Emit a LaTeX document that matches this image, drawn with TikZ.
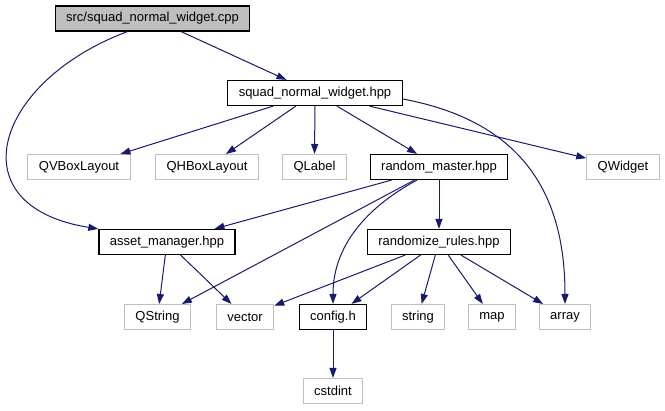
\documentclass[tikz,border=0pt]{standalone}
\usepackage{fontspec}
\setmainfont{Liberation Sans}
\definecolor{DoxEdge}{HTML}{191970}
\definecolor{DoxGrey}{HTML}{BFBFBF}
\usetikzlibrary{arrows.meta}

\begin{document}
\begin{tikzpicture}[x=1pt, y=1pt, >={Triangle[length=10pt, width=7pt]},
    hfile/.style={draw=black, line width=1.2pt, fill=white, inner xsep=11pt,
                  inner ysep=0pt, minimum height=25pt,
                  font=\fontsize{13}{15}\selectfont},
    sysfile/.style={hfile, draw=DoxGrey, line width=1pt},
    dep/.style={->, DoxEdge, line width=1pt}]
  \useasboundingbox (0,0) rectangle (665,411);
  % top level
  \node[hfile, fill=DoxGrey] (cpp) at (152.5,392.5) {src/squad\_normal\_widget.cpp};
  \node[hfile] (widget) at (315,318) {squad\_normal\_widget.hpp};
  % second row
  \node[sysfile] (qvbox) at (79,244) {QVBoxLayout};
  \node[sysfile] (qhbox) at (207,244) {QHBoxLayout};
  \node[sysfile] (qlabel) at (314.5,244) {QLabel};
  \node[hfile] (master) at (439,244) {random\_master.hpp};
  \node[sysfile] (qwidget) at (623,244) {QWidget};
  % third row
  \node[hfile] (asset) at (167,169) {asset\_manager.hpp};
  \node[hfile] (rules) at (439,169) {randomize\_rules.hpp};
  % bottom rows
  \node[sysfile] (qstring) at (157.5,94) {QString};
  \node[sysfile] (vector) at (245,94) {vector};
  \node[hfile] (config) at (333,94) {config.h};
  \node[sysfile] (string) at (418,94) {string};
  \node[sysfile] (map) at (492,94) {map};
  \node[sysfile] (array) at (565,94) {array};
  \node[sysfile] (cstdint) at (333,20) {cstdint};

  \draw[dep] (cpp) -- (widget);
  \draw[dep] ([xshift=-25pt]cpp.south) .. controls (-5,330) and (-45,205) .. (asset.north west);
  \draw[dep] (widget) -- (qvbox);
  \draw[dep] (widget) -- (qhbox);
  \draw[dep] (widget) -- (qlabel);
  \draw[dep] (widget) -- (master);
  \draw[dep] (widget) -- (qwidget);
  \draw[dep] ([yshift=-6pt]widget.east) .. controls (520,290) and (565,220) .. (array.north);
  \draw[dep] (master) -- (asset);
  \draw[dep] (master) -- (qstring);
  \draw[dep] ([xshift=-22pt]master.south) .. controls (360,200) and (333,160) .. (config.north);
  \draw[dep] (master) -- (rules);
  \draw[dep] (asset) -- (qstring);
  \draw[dep] (asset) -- (vector);
  \draw[dep] (rules) -- (vector);
  \draw[dep] (rules) -- (config);
  \draw[dep] (rules) -- (string);
  \draw[dep] (rules) -- (map);
  \draw[dep] (rules) -- (array);
  \draw[dep] (config) -- (cstdint);
\end{tikzpicture}
\end{document}
